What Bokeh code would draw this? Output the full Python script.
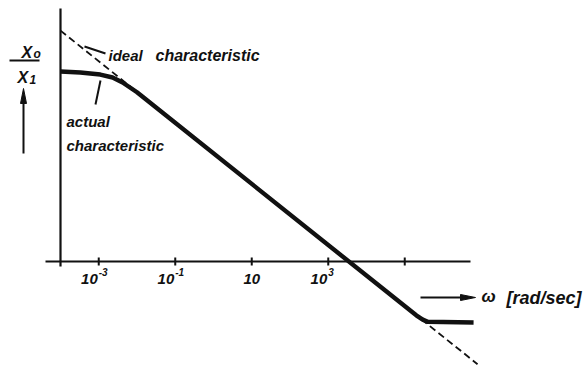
import math
from bokeh.plotting import figure
from bokeh.models import Range1d
from bokeh.core.properties import value
from bokeh.embed import file_html
from bokeh.resources import INLINE

# Frequency response of an integrator: ideal vs. actual amplitude ratio
omega_ideal = [1e-4, 8e6]
mag_ideal = [3.5e7, 4.4e-4]

omega_actual = [1e-4, 3.3e-4, 1.1e-3, 2.3e-3, 4.2e-3, 1e-2, 2e5, 2.95e5, 4e5, 6.3e6]
mag_actual = [1.62e6, 1.50e6, 1.29e6, 1.03e6, 7.1e5, 3.4e5, 1.74e-2, 1.26e-2, 1.07e-2, 1.02e-2]

tick_omega = [1e-3, 1e-1, 1e1, 1e3, 1e5]
tick_base = ["10", "10", "10", "10", ""]
tick_exp = ["-3", "-1", "", "3", ""]

W, H = 584, 365
PX_X = 38.25      # pixels per decade of omega
PX_Y = 30.6       # pixels per decade of amplitude ratio
XMIN = -4 - 60 / PX_X
XMAX = XMIN + W / PX_X
YMAX = 261 / PX_Y
YMIN = YMAX - H / PX_Y


def at(px, py):
    """Canvas pixel position -> (omega, ratio) on the log axes."""
    return 10 ** (XMIN + px / PX_X), 10 ** (YMAX - py / PX_Y)


def px_of(omega):
    return (math.log10(omega) - XMIN) * PX_X


p = figure(width=W, height=H, x_axis_type="log", y_axis_type="log",
           x_range=Range1d(10 ** XMIN, 10 ** XMAX),
           y_range=Range1d(10 ** YMIN, 10 ** YMAX),
           x_axis_location=None, y_axis_location=None,
           min_border=0, toolbar_location=None, output_backend="svg")
p.grid.visible = False
p.outline_line_color = None
p.background_fill_color = "white"
p.border_fill_color = "white"

INK = "#111111"
FONT = value("Liberation Sans")


def label(px, py, txt, size="15px", align="left", baseline="middle"):
    x, y = at(px, py)
    p.text([x], [y], text=[txt], text_align=align, text_baseline=baseline,
           text_color=INK, text_font=FONT, text_font_style="bold italic",
           text_font_size=size)


# axes drawn through the origin omega = 1e-4, ratio = 1
x0, _ = at(45, 0)
x1, _ = at(470, 0)
p.line([x0, x1], [1, 1], line_color=INK, line_width=2)
_, ytop = at(0, 8)
_, ybot = at(0, 266)
p.line([1e-4, 1e-4], [ybot, ytop], line_color=INK, line_width=2.2)
p.scatter(tick_omega, [1] * len(tick_omega), marker="dash", angle=1.5708,
          size=8, line_color=INK, line_width=2)

# decade labels: base "10" with a raised exponent
for w, base, ex in zip(tick_omega, tick_base, tick_exp):
    if not base:
        continue
    cx = px_of(w)
    if ex:
        label(cx - 1, 278, base, "15px", "right")
        label(cx, 271, ex, "10px", "left")
    else:
        label(cx, 278, base, "15px", "center")

# characteristics
p.line(omega_ideal, mag_ideal, line_color=INK, line_width=1.8, line_dash="7 4")
p.line(omega_actual, mag_actual, line_color=INK, line_width=4.4,
       line_join="round", line_cap="butt")

# leader lines to the annotations
for (ax, ay), (bx, by) in [((105, 53), (84, 46)), ((100, 80), (95, 104))]:
    sx, sy = at(ax, ay)
    ex_, ey = at(bx, by)
    p.line([sx, ex_], [sy, ey], line_color=INK, line_width=2)

label(108, 55, "ideal")
label(155, 55, "characteristic", "16px")
label(66, 121, "actual")
label(66, 145, "characteristic")

# ordinate caption X_o / X_1 with an upward arrow
label(21, 52, "X", "16px", baseline="alphabetic")
label(33, 53, "o", "12px", baseline="alphabetic")
label(17, 77, "X", "16px", baseline="alphabetic")
label(29, 79, "1", "12px", baseline="alphabetic")
bx0, by0 = at(9, 60)
bx1, _ = at(39, 60)
p.line([bx0, bx1], [by0, by0], line_color=INK, line_width=1.8)
ax_, ay0 = at(23, 153)
_, ay1 = at(23, 98)
p.line([ax_, ax_], [ay0, ay1], line_color=INK, line_width=2)
tri = [at(23, 88), at(20, 103), at(26, 103)]
p.patch([t[0] for t in tri], [t[1] for t in tri], fill_color=INK, line_color=INK)

# abscissa caption
hx0, hy = at(420, 297)
hx1, _ = at(462, 297)
p.line([hx0, hx1], [hy, hy], line_color=INK, line_width=1.8)
tri = [at(475, 297), at(460, 294), at(460, 300)]
p.patch([t[0] for t in tri], [t[1] for t in tri], fill_color=INK, line_color=INK)
label(481, 296, "ω", "17px")
label(506, 297, "[rad/sec]", "18px")

open("out.html", "w").write(file_html(p, INLINE))
